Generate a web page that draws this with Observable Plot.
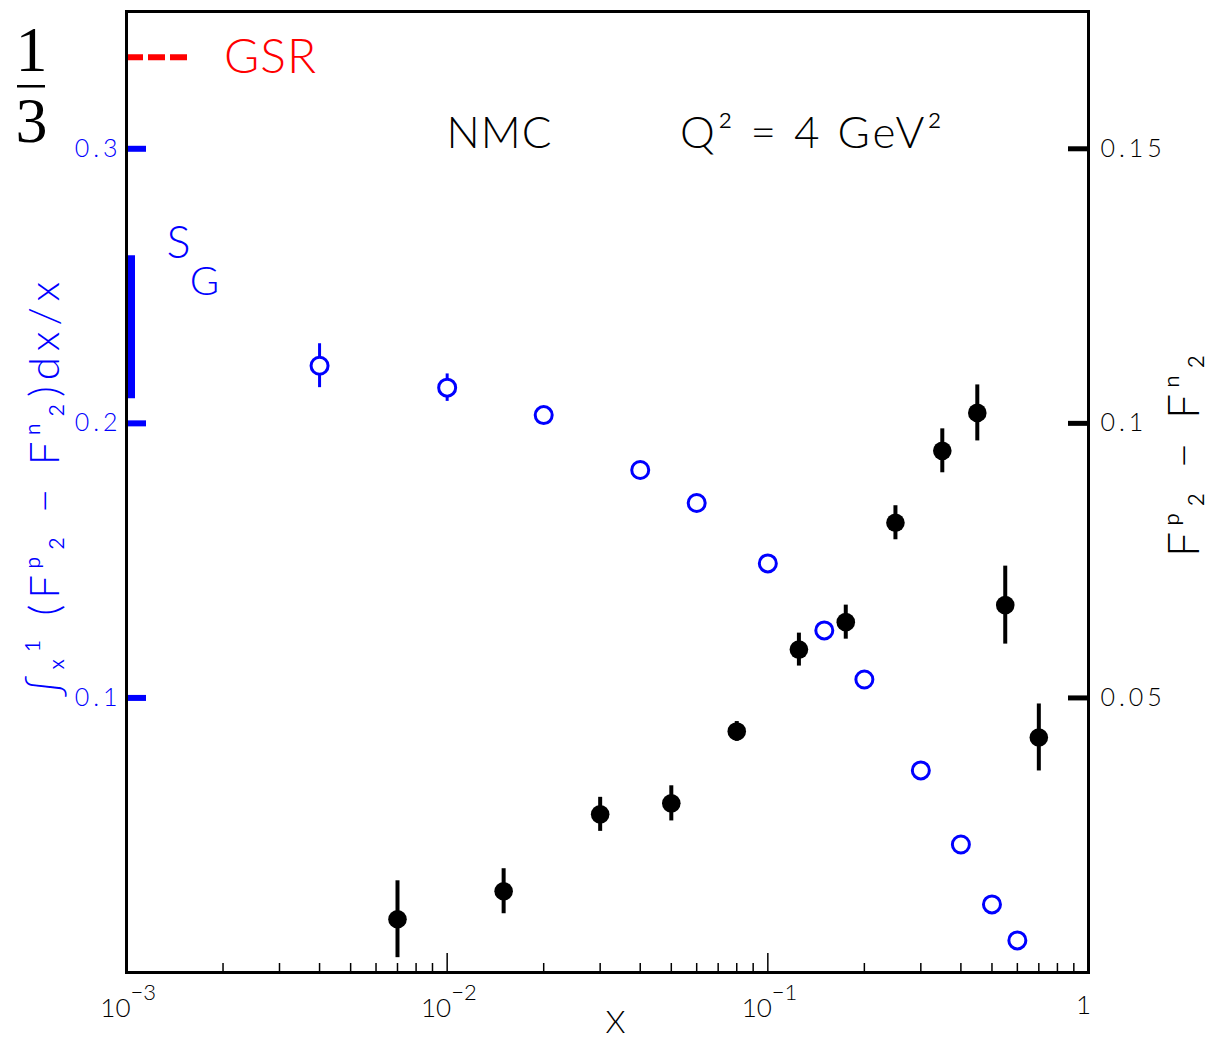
<!DOCTYPE html>
<html><head><meta charset="utf-8">
<script src="https://cdn.jsdelivr.net/npm/d3@7"></script>
<script src="https://cdn.jsdelivr.net/npm/@observablehq/plot@0.6"></script>
<style>body{margin:0;background:#fff}</style>
</head><body><div id="chart"></div>
<script>
// integral (left axis, open blue circles)
const integralX = [0.004, 0.01, 0.02, 0.04, 0.06, 0.1, 0.15, 0.2, 0.3, 0.4, 0.5, 0.6];
const integralY = [0.221, 0.213, 0.203, 0.183, 0.171, 0.149, 0.1246, 0.1067, 0.0736, 0.0466, 0.0248, 0.0117];
const integralErr = [0.008, 0.005, 0, 0, 0, 0, 0, 0, 0, 0, 0, 0];
// F2p - F2n (right axis, filled black circles)
const diffX = [0.007, 0.015, 0.03, 0.05, 0.08, 0.125, 0.175, 0.25, 0.35, 0.45, 0.55, 0.7];
const diffY = [0.0097, 0.0148, 0.0288, 0.0308, 0.0439, 0.0588, 0.0638, 0.0819, 0.0950, 0.1019, 0.0669, 0.0428];
const diffErr = [0.007, 0.0041, 0.0031, 0.0032, 0.0018, 0.003, 0.0031, 0.0031, 0.004, 0.0051, 0.0071, 0.0061];
const gsrValue = 1 / 3;
const sgRange = [0.209, 0.261];
const leftTicks = [0.1, 0.2, 0.3];
const leftTickLabels = ["0.1", "0.2", "0.3"];
const rightTicks = [0.05, 0.1, 0.15];
const rightTickLabels = ["0.05", "0.1", "0.15"];
const xTicks = [0.001, 0.01, 0.1, 1];
const xTickBase = ["10", "10", "10", "1"];
const xTickExp = ["−3", "−2", "−1", ""];
const xDomain = [0.001, 1];
const yDomain = [0, 0.35];
const rightFactor = 2; // left-axis value = right-axis value * 2
const leftLabel = "∫ₓ¹ (Fᵖ₂ − Fⁿ₂)dx/x";
const rightLabel = "Fᵖ₂ − Fⁿ₂";
const titleLeft = "NMC";
const titleRight = "Q² = 4 GeV²";

const integral = integralX.map((x, i) => ({x, y: integralY[i], e: integralErr[i]}));
const diff = diffX.map((x, i) => ({x, y: diffY[i] * rightFactor, e: diffErr[i] * rightFactor}));
const minorTicks = d3.range(-3, 0).flatMap(p => d3.range(2, 10).map(k => k * Math.pow(10, p)));
const majorTicks = xTicks.slice(1, -1);

const W = 1215, H = 1044, mL = 126, mR = 127, mT = 11, mB = 72;
const fw = W - mL - mR, fh = H - mT - mB;
const font = "Lato, 'Liberation Sans', sans-serif";
const serif = "'Liberation Serif', 'DejaVu Serif', serif";
const BLUE = "#0000ff";

const chart = Plot.plot({
  width: W, height: H,
  marginLeft: mL, marginRight: mR, marginTop: mT, marginBottom: mB,
  style: {fontFamily: font, fontWeight: 300, background: "white", color: "black"},
  x: {type: "log", domain: xDomain, axis: null},
  y: {domain: yDomain, axis: null},
  marks: [
    // S_G band
    Plot.ruleX([sgRange], {x: xDomain[0], y1: d => d[0], y2: d => d[1], stroke: BLUE, strokeWidth: 7, dx: 5}),
    // GSR dashed line
    Plot.ruleY([gsrValue], {stroke: "red", strokeWidth: 6, strokeDasharray: "17,5", insetRight: fw - 62}),
    // fraction 1/3
    Plot.ruleY([gsrValue], {stroke: "black", strokeWidth: 2.5, dy: 29, insetLeft: -(mL - 17), insetRight: (W - mR) - 45}),
    Plot.text(["1"], {frameAnchor: "top-left", dx: 31 - mL, dy: 50 - mT, fontSize: 64, fontFamily: serif, fontWeight: 400, textAnchor: "middle", lineAnchor: "middle"}),
    Plot.text(["3"], {frameAnchor: "top-left", dx: 31 - mL, dy: 121 - mT, fontSize: 64, fontFamily: serif, fontWeight: 400, textAnchor: "middle", lineAnchor: "middle"}),
    Plot.text(["GSR"], {x: xDomain[0], y: gsrValue, dx: 144, fill: "red", fontSize: 48, textAnchor: "middle", lineAnchor: "middle"}),
    // S_G label
    Plot.text(["S"], {frameAnchor: "top-left", dx: 178 - mL, dy: 243 - mT, fill: BLUE, fontSize: 45, textAnchor: "middle", lineAnchor: "middle"}),
    Plot.text(["G"], {frameAnchor: "top-left", dx: 204 - mL, dy: 282 - mT, fill: BLUE, fontSize: 40, textAnchor: "middle", lineAnchor: "middle"}),
    // titles
    Plot.text([titleLeft], {frameAnchor: "top-left", dx: 499 - mL, dy: 133 - mT, fontSize: 44, textAnchor: "middle", lineAnchor: "middle"}),
    Plot.text([titleRight], {frameAnchor: "top-left", dx: 812 - mL, dy: 133 - mT, fontSize: 44, textAnchor: "middle", lineAnchor: "middle"}),
    // axis ticks
    Plot.ruleY(leftTicks, {y: d => d, stroke: BLUE, strokeWidth: 6, insetRight: fw - 20}),
    Plot.ruleY(rightTicks, {y: d => d * rightFactor, stroke: "black", strokeWidth: 5, insetLeft: fw - 20}),
    Plot.ruleX(minorTicks, {x: d => d, stroke: "black", strokeWidth: 1.5, insetTop: fh - 9}),
    Plot.ruleX(majorTicks, {x: d => d, stroke: "black", strokeWidth: 1.5, insetTop: fh - 19}),
    // tick labels
    Plot.text(leftTicks, {x: xDomain[0], y: d => d, text: (d, i) => leftTickLabels[i], dx: -5, fill: BLUE, fontSize: 25, textAnchor: "end", lineAnchor: "middle"}),
    Plot.text(rightTicks, {x: xDomain[1], y: d => d * rightFactor, text: (d, i) => rightTickLabels[i], dx: 12, fill: "black", fontSize: 25, textAnchor: "start", lineAnchor: "middle"}),
    Plot.text(xTicks, {filter: (d, i) => xTickExp[i] !== "", x: d => d, y: yDomain[0], text: (d, i) => xTickBase[i], dx: 4, dy: 36, fontSize: 26, textAnchor: "end", lineAnchor: "middle"}),
    Plot.text(xTicks, {filter: (d, i) => xTickExp[i] !== "", x: d => d, y: yDomain[0], text: (d, i) => xTickExp[i], dx: 4, dy: 20, fontSize: 22, textAnchor: "start", lineAnchor: "middle"}),
    Plot.text(xTicks, {filter: (d, i) => xTickExp[i] === "", x: d => d, y: yDomain[0], text: (d, i) => xTickBase[i], dx: -5, dy: 33, fontSize: 26, textAnchor: "middle", lineAnchor: "middle"}),
    // axis labels
    Plot.text(["X"], {frameAnchor: "bottom", dx: 615 - (mL + fw / 2), dy: 50, fontSize: 32, textAnchor: "middle", lineAnchor: "middle"}),
    Plot.text([leftLabel], {frameAnchor: "left", dx: 45 - mL, dy: 486 - (mT + fh / 2), rotate: -90, fill: BLUE, fontSize: 42, textAnchor: "middle", lineAnchor: "middle"}),
    Plot.text([rightLabel], {frameAnchor: "right", dx: 1184 - (W - mR), dy: 452 - (mT + fh / 2), rotate: -90, fill: "black", fontSize: 44, textAnchor: "middle", lineAnchor: "middle"}),
    // error bars and points
    Plot.ruleX(integral.filter(d => d.e > 0), {x: "x", y1: d => d.y - d.e, y2: d => d.y + d.e, stroke: BLUE, strokeWidth: 3}),
    Plot.dot(integral, {x: "x", y: "y", r: 8.5, fill: "white", stroke: BLUE, strokeWidth: 3}),
    Plot.ruleX(diff, {x: "x", y1: d => d.y - d.e, y2: d => d.y + d.e, stroke: "black", strokeWidth: 4}),
    Plot.dot(diff, {x: "x", y: "y", r: 9.3, fill: "black"}),
    Plot.frame({stroke: "black", strokeWidth: 3})
  ]
});

// widen the letter spacing of some texts, as in the reference's stroke font
const spacing = new Map([
  [leftLabel, 6], [rightLabel, 6], [titleRight, 3], [titleLeft, 1], ["GSR", 1]
]);
leftTickLabels.concat(rightTickLabels).forEach(t => spacing.set(t, 4));
d3.select(chart).selectAll("text").each(function() {
  const s = spacing.get(this.textContent);
  if (s !== undefined) d3.select(this).attr("letter-spacing", s);
});
document.getElementById("chart").append(chart);
</script>
</body></html>
